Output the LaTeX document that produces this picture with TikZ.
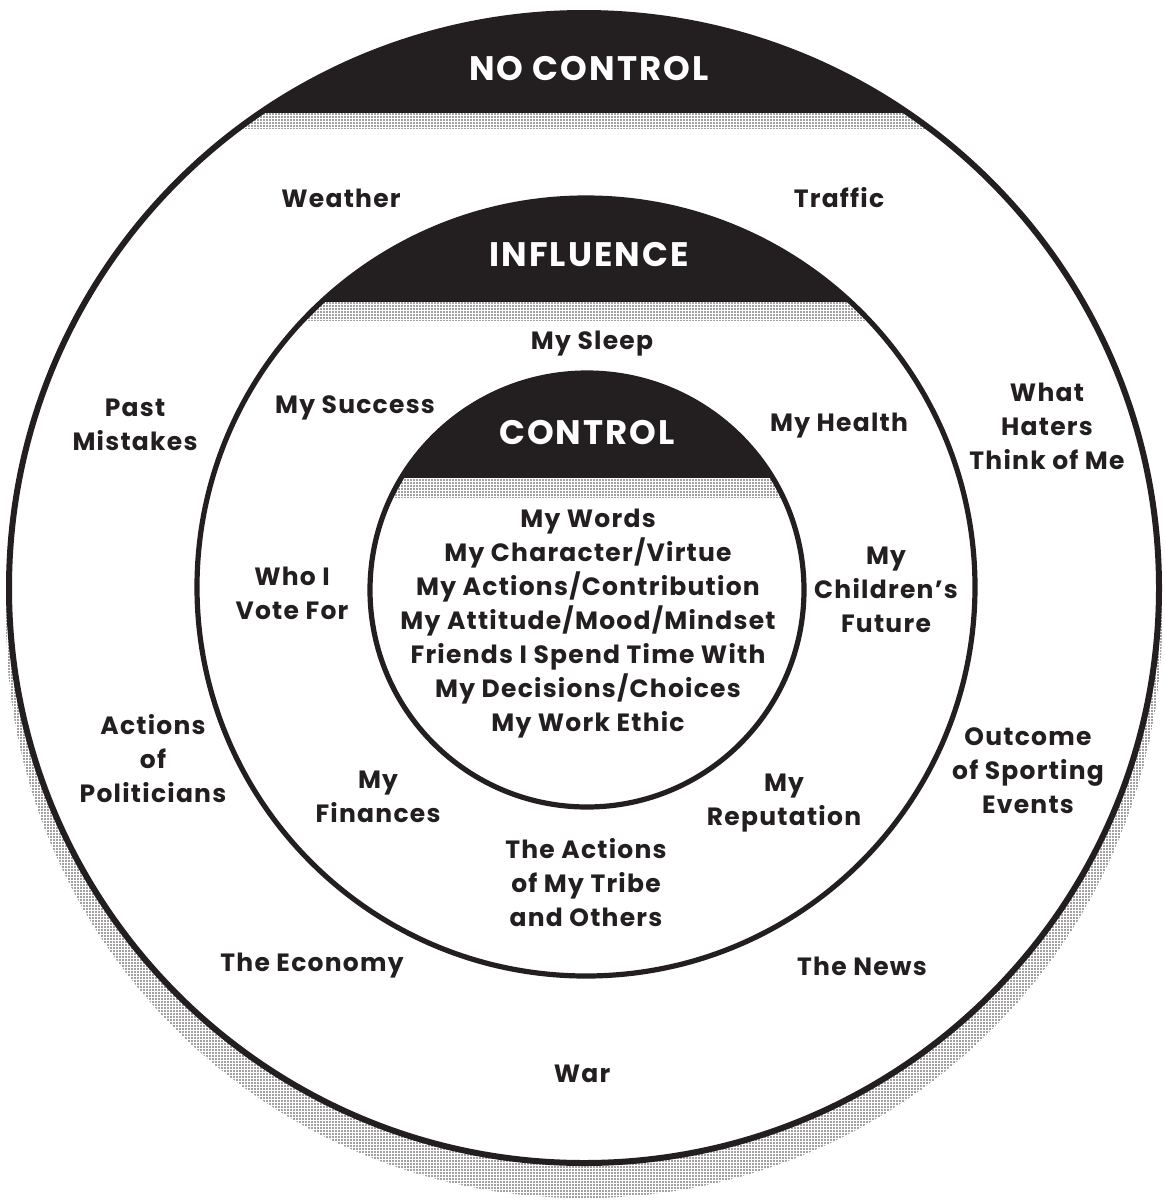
\documentclass[tikz,border=0pt]{standalone}
\usepackage{fontspec}
\setmainfont{Poppins}
\newfontfamily\titlefont[LetterSpace=6]{Poppins}
\newfontfamily\labelfont[LetterSpace=5]{Poppins}
\usetikzlibrary{patterns}
\definecolor{ink}{HTML}{231F20}
\pgfdeclarepatternformonly{finedots}{\pgfpoint{-0.6pt}{-0.6pt}}{\pgfpoint{0.6pt}{0.6pt}}{\pgfpoint{1.5pt}{1.5pt}}{\pgfpathcircle{\pgfpointorigin}{0.45pt}\pgfusepath{fill}}
\tikzset{
  lbl/.style={align=center, text=ink, font=\fontsize{12.5}{17}\selectfont\labelfont\bfseries, inner sep=0pt},
  ttl/.style={text=white, font=\fontsize{17}{20}\selectfont\titlefont\bfseries, inner sep=0pt},
  stip/.style={pattern=finedots, pattern color=ink!85},
  ring/.style={draw=ink}
}
\begin{document}
\begin{tikzpicture}[x=0.5pt,y=-0.5pt]
\useasboundingbox (0,0) rectangle (1164,1200);
% shadow
\fill[stip] (584,620) circle (578);
% outer circle
\fill[white] (584,588) circle (575);
\begin{scope}
  \clip (584,588) circle (575);
  \fill[ink] (0,0) rectangle (1164,113);
  \fill[stip] (0,113) rectangle (1164,128);
\end{scope}
\draw[ring, line width=3pt] (584,588) circle (575);
% middle circle
\begin{scope}
  \clip (586,587) circle (389);
  \fill[ink] (0,0) rectangle (1164,302);
  \fill[stip] (0,302) rectangle (1164,320);
\end{scope}
\draw[ring, line width=2.6pt] (586,587) circle (389);
% inner circle
\begin{scope}
  \clip (587,590) circle (217);
  \fill[ink] (0,0) rectangle (1164,478);
  \fill[stip] (0,478) rectangle (1164,497);
\end{scope}
\draw[ring, line width=2.6pt] (587,590) circle (217);
% titles
\node[ttl] (nocontrol) at (589,69) {NO CONTROL};
\node[ttl] (influence) at (589,255) {INFLUENCE};
\node[ttl] (control) at (587,433) {CONTROL};
% outer labels
\node[lbl] (weather) at (341,198) {Weather};
\node[lbl] (traffic) at (839,198) {Traffic};
\node[lbl] (past) at (135,425) {Past\\Mistakes};
\node[lbl] (haters) at (1047,426) {What\\Haters\\Think of Me};
\node[lbl] (politicians) at (153,759) {Actions\\of\\Politicians};
\node[lbl] (sports) at (1028,771) {Outcome\\of Sporting\\Events};
\node[lbl] (economy) at (312,966) {The Economy};
\node[lbl] (news) at (862,966) {The News};
\node[lbl] (war) at (582,1074) {War};
% middle labels
\node[lbl] (sleep) at (592,344) {My Sleep};
\node[lbl] (success) at (355,408) {My Success};
\node[lbl] (health) at (839,426) {My Health};
\node[lbl] (vote) at (292,593) {Who I\\Vote For};
\node[lbl] (children) at (886,590) {My\\Children’s\\Future};
\node[lbl] (finances) at (378,797) {My\\Finances};
\node[lbl] (reputation) at (784,803) {My\\Reputation};
\node[lbl] (tribe) at (586,883) {The Actions\\of My Tribe\\and Others};
% inner labels
\node[lbl] (inner) at (588,624) {My Words\\My Character/Virtue\\My Actions/Contribution\\My Attitude/Mood/Mindset\\Friends I Spend Time With\\My Decisions/Choices\\My Work Ethic};
\end{tikzpicture}
\end{document}
